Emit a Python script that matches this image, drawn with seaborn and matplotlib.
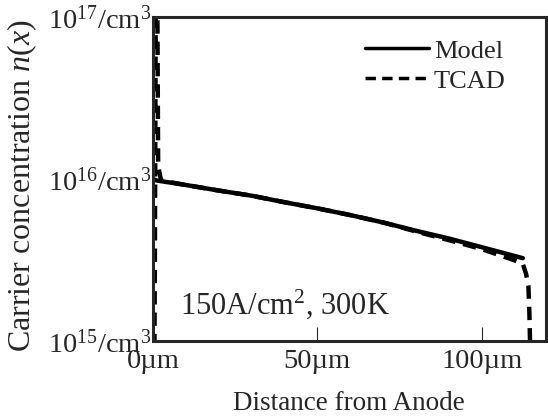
import numpy as np
import matplotlib
matplotlib.use("Agg")
import matplotlib.pyplot as plt
import pandas as pd
import seaborn as sns

# values (x in um, n in cm^-3)
model_x = [0, 1.2, 10, 20, 30, 40, 50, 60, 70, 80, 90, 100, 112.5]
model_n = [1.0e16, 9.8e15, 9.2e15, 8.5e15, 7.9e15, 7.2e15, 6.6e15, 6.0e15,
           5.4e15, 4.8e15, 4.3e15, 3.8e15, 3.25e15]
tcad_x = [0.4, 0.6, 0.9, 1.3, 1.6, 2.5, 10, 20, 30, 40, 50, 60, 70, 80, 90,
          100, 110, 112.5, 113.5, 114.2, 114.5, 114.7, 114.9]
tcad_n = [5e14, 3e15, 2e17, 2e17, 1.2e16, 9.8e15, 9.2e15, 8.5e15, 7.9e15,
          7.2e15, 6.6e15, 6.0e15, 5.4e15, 4.75e15, 4.2e15, 3.7e15, 3.15e15,
          3.0e15, 2.6e15, 2.2e15, 1.5e15, 1.0e15, 5e14]
x_ticks = [0, 50, 100]
x_labels = ["0\u00b5m", "50\u00b5m", "100\u00b5m"]
y_ticks = [1e15, 1e16, 1e17]
y_labels = [r"10$^{15}$/cm$^3$", r"10$^{16}$/cm$^3$", r"10$^{17}$/cm$^3$"]

sns.set_style("ticks")
plt.rcParams["font.family"] = ["Liberation Serif", "DejaVu Serif"]
plt.rcParams["mathtext.fontset"] = "custom"
plt.rcParams["mathtext.rm"] = "Liberation Serif"
plt.rcParams["mathtext.it"] = "Liberation Serif:italic"

model_df = pd.DataFrame({"x": model_x, "n": model_n})
tcad_df = pd.DataFrame({"x": tcad_x, "n": tcad_n})

fig = plt.figure(figsize=(5.48, 4.18), dpi=100)
ax = fig.add_axes([0.279, 0.184, 0.717, 0.775])

sns.lineplot(data=model_df, x="x", y="n", ax=ax, color="black", lw=3.2,
             label="Model", sort=False, estimator=None)
sns.lineplot(data=tcad_df, x="x", y="n", ax=ax, color="black", lw=3.2,
             label="TCAD", sort=False, estimator=None, dashes=False)
ax.lines[1].set_linestyle((0, (3.0, 1.8)))

ax.set_yscale("log")
ax.set_xlim(0, 119.5)
ax.set_ylim(1e15, 1e17)
ax.set_xticks(x_ticks)
ax.set_xticklabels(x_labels, fontsize=20.5)
ax.set_yticks(y_ticks)
ax.set_yticklabels(y_labels, fontsize=20.5)
ax.minorticks_off()
ax.tick_params(axis="x", direction="in", length=10, width=0.8, pad=6)
ax.tick_params(axis="y", direction="in", length=0, pad=1)
for s in ax.spines.values():
    s.set_linewidth(2.2)

ax.set_xlabel("Distance from Anode", fontsize=19.5)
ax.xaxis.set_label_coords(0.5, -0.155)
ax.set_ylabel(r"Carrier concentration $n(x)$", fontsize=23)
ax.yaxis.set_label_coords(-0.29, 0.48)

ax.text(0.069, 0.085, r"150A/cm$^2$, 300K", transform=ax.transAxes,
        fontsize=22)

leg = ax.legend(loc="upper right", bbox_to_anchor=(0.925, 0.965),
                frameon=False, fontsize=19, borderaxespad=0,
                handlelength=2.4, handletextpad=0.2, labelspacing=0.25)
for h in leg.get_lines():
    h.set_linewidth(2.5)

fig.savefig("out.png", dpi=100)
